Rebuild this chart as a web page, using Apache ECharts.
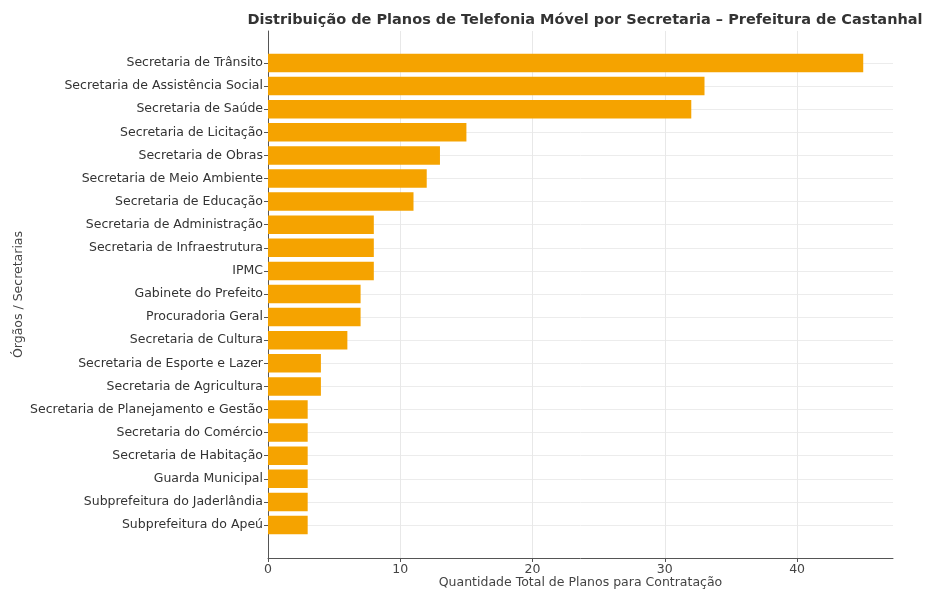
<!DOCTYPE html>
<html>
<head>
<meta charset="utf-8">
<script src="https://cdn.jsdelivr.net/npm/echarts@6/dist/echarts.min.js"></script>
<style>
  html, body { margin: 0; padding: 0; background: #fff; }
  #chart { width: 927px; height: 591px; }
</style>
</head>
<body>
<div id="chart"></div>
<script>
// categories, top to bottom
const secretarias = [
  'Secretaria de Trânsito',
  'Secretaria de Assistência Social',
  'Secretaria de Saúde',
  'Secretaria de Licitação',
  'Secretaria de Obras',
  'Secretaria de Meio Ambiente',
  'Secretaria de Educação',
  'Secretaria de Administração',
  'Secretaria de Infraestrutura',
  'IPMC',
  'Gabinete do Prefeito',
  'Procuradoria Geral',
  'Secretaria de Cultura',
  'Secretaria de Esporte e Lazer',
  'Secretaria de Agricultura',
  'Secretaria de Planejamento e Gestão',
  'Secretaria do Comércio',
  'Secretaria de Habitação',
  'Guarda Municipal',
  'Subprefeitura do Jaderlândia',
  'Subprefeitura do Apeú'
];
const planos = [45, 33, 32, 15, 13, 12, 11, 8, 8, 8, 7, 7, 6, 4, 4, 3, 3, 3, 3, 3, 3];
const xTicks = [0, 10, 20, 30, 40];

const chart = echarts.init(document.getElementById('chart'));
const font = 'DejaVu Sans';
const xMax = 47.25;

const option = {
  animation: false,
  textStyle: { fontFamily: font },
  title: {
    text: 'Distribuição de Planos de Telefonia Móvel por Secretaria – Prefeitura de Castanhal',
    left: 580,
    textAlign: 'center',
    top: 8,
    textStyle: { fontFamily: font, fontSize: 14.5, fontWeight: 'bold', color: '#333' }
  },
  grid: [
    // frame grid: spines and vertical grid lines
    { left: 268, right: 34, top: 31, bottom: 33, outerBoundsMode: 'none', containLabel: false },
    // bar grid: category centres
    { left: 268, right: 34, top: 63, bottom: 66, outerBoundsMode: 'none', containLabel: false }
  ],
  xAxis: [
    {
      gridIndex: 0,
      type: 'value',
      min: 0,
      max: xMax,
      interval: 10,
      name: 'Quantidade Total de Planos para Contratação',
      nameLocation: 'middle',
      nameGap: 18,
      nameMoveOverlap: false,
      nameTextStyle: { fontFamily: font, fontSize: 12.5, color: '#444' },
      axisLine: { show: true, lineStyle: { color: '#555', width: 1 } },
      axisTick: { show: true, length: 4, lineStyle: { color: '#555' }, customValues: xTicks },
      axisLabel: {
        fontFamily: font, fontSize: 12.5, color: '#444', margin: 5,
        customValues: xTicks
      },
      splitLine: { show: true, lineStyle: { color: '#e8e8e8', width: 1 } }
    },
    {
      gridIndex: 1,
      type: 'value',
      min: 0,
      max: xMax,
      show: false
    }
  ],
  yAxis: [
    {
      gridIndex: 0,
      type: 'value',
      min: 0,
      max: 1,
      name: 'Órgãos / Secretarias',
      nameLocation: 'middle',
      nameRotate: 90,
      nameGap: 243,
      nameMoveOverlap: false,
      nameTextStyle: { fontFamily: font, fontSize: 12.5, color: '#444' },
      axisLine: { show: true, lineStyle: { color: '#555', width: 1 } },
      axisTick: { show: false },
      axisLabel: { show: false },
      splitLine: { show: false }
    },
    {
      gridIndex: 1,
      type: 'category',
      data: secretarias,
      inverse: true,
      boundaryGap: false,
      axisLine: { show: false },
      axisTick: { show: true, length: 4, lineStyle: { color: '#555' } },
      axisLabel: { fontFamily: font, fontSize: 12.5, color: '#333', margin: 5, interval: 0 },
      splitLine: { show: true, interval: 0, lineStyle: { color: '#ececec', width: 1 } }
    }
  ],
  series: [
    {
      type: 'bar',
      xAxisIndex: 1,
      yAxisIndex: 1,
      data: planos,
      barWidth: 18.5,
      itemStyle: { color: '#F5A300' },
      z: 3
    }
  ]
};

chart.setOption(option);
</script>
</body>
</html>
